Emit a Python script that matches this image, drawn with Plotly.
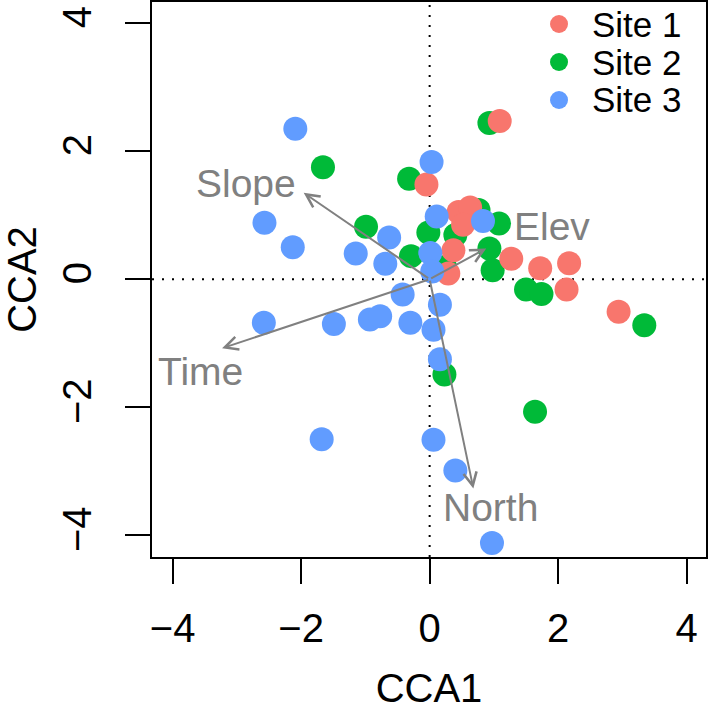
import plotly.graph_objects as go

# ---- data ----
site1_x = [-0.05, 1.09, 0.45, 0.63, 0.37, 0.29, 1.27, 1.72, 2.17, 2.13, 2.94, 0.52]
site1_y = [1.48, 2.47, 1.05, 1.12, 0.45, 0.09, 0.32, 0.17, 0.25, -0.16, -0.51, 0.85]

site2_x = [-1.66, -0.32, 0.93, -0.99, -0.29, -0.02, 0.40, 1.08, 0.76, 0.24, 0.93, 0.98,
           1.50, 1.74, 3.34, 0.23, 1.64]
site2_y = [1.75, 1.57, 2.44, 0.82, 0.36, 0.73, 0.69, 0.87, 1.08, 0.19, 0.48, 0.14,
           -0.16, -0.23, -0.72, -1.49, -2.07]

site3_x = [-2.09, -2.57, -2.13, -1.15, -0.63, -0.69, 0.03, 0.11, 0.83, 0.01, 0.04, -0.42,
           0.16, -0.30, 0.06, 0.16, -2.58, -1.49, -0.93, -0.77, -1.68, 0.06, 0.40, 0.97]
site3_y = [2.35, 0.88, 0.50, 0.40, 0.65, 0.24, 1.83, 0.98, 0.91, 0.41, 0.12, -0.24,
           -0.40, -0.68, -0.79, -1.25, -0.68, -0.70, -0.63, -0.58, -2.50, -2.51, -2.99, -4.12]

env_names = ["Slope", "Time", "North", "Elev"]
env_x = [-1.96, -3.23, 0.68, 0.88]
env_y = [1.35, -1.08, -3.27, 0.48]
env_label_x = [-2.85, -3.57, 0.94, 1.90]
env_label_y = [1.49, -1.44, -3.57, 0.82]

site_names = ["Site 1", "Site 2", "Site 3"]
site_colors = ["#F8766D", "#00BA38", "#619CFF"]

x_ticks = [-4, -2, 0, 2, 4]
y_ticks = [-4, -2, 0, 2, 4]
tick_text = ["\u22124", "\u22122", "0", "2", "4"]

FONT = "Liberation Sans, Arial, Helvetica, sans-serif"
GRAY = "#808080"

fig = go.Figure()

series = [(site2_x, site2_y, 1), (site1_x, site1_y, 0), (site3_x, site3_y, 2)]
for xs, ys, i in series:
    fig.add_trace(go.Scatter(
        x=xs, y=ys, mode="markers", name=site_names[i],
        marker=dict(color=site_colors[i], size=24, line=dict(width=0)),
        showlegend=False, hoverinfo="skip"))

# dotted reference lines at zero
fig.add_shape(type="line", xref="x", yref="paper", x0=0, x1=0, y0=0, y1=1,
              line=dict(color="black", width=2, dash="2px,8px"), layer="below")
fig.add_shape(type="line", xref="paper", yref="y", x0=0, x1=1, y0=0, y1=0,
              line=dict(color="black", width=2, dash="2px,8px"), layer="below")

# biplot arrows
for name, ex, ey, lx, ly in zip(env_names, env_x, env_y, env_label_x, env_label_y):
    fig.add_annotation(x=ex, y=ey, ax=0, ay=0, xref="x", yref="y", axref="x", ayref="y",
                       showarrow=True, arrowhead=5, arrowsize=1.3, arrowwidth=2,
                       arrowcolor=GRAY, text="", standoff=0, startstandoff=0)
    fig.add_annotation(x=lx, y=ly, xref="x", yref="y", text=name, showarrow=False,
                       font=dict(family=FONT, size=39, color=GRAY),
                       xanchor="center", yanchor="middle")

# manual legend
leg_marker_x = 0.7347
leg_text_x = 0.790
leg_rows_px = [24, 62, 100]
for name, col, ypx in zip(site_names, site_colors, leg_rows_px):
    yp = (557 - ypx) / 555
    fig.add_shape(type="circle", xref="paper", yref="paper",
                  xsizemode="pixel", ysizemode="pixel",
                  xanchor=leg_marker_x, yanchor=yp, x0=-9, x1=9, y0=-9, y1=9,
                  fillcolor=col, line=dict(width=0))
    fig.add_annotation(x=leg_text_x, y=yp, xref="paper", yref="paper", text=name,
                       showarrow=False, xanchor="left", yanchor="middle",
                       font=dict(family=FONT, size=35, color="black"))

axis_common = dict(
    showgrid=False, zeroline=False, showline=True, linecolor="black", linewidth=2,
    mirror=True, ticks="outside", ticklen=25, tickwidth=2, tickcolor="black",
    tickfont=dict(family=FONT, size=40, color="black"),
)

fig.update_xaxes(range=[-4.32, 4.30], tickvals=x_ticks, ticktext=tick_text,
                 ticklabelstandoff=10,
                 title=dict(text="CCA1", font=dict(family=FONT, size=40, color="black"),
                            standoff=36),
                 **axis_common)
fig.update_yaxes(range=[-4.34, 4.33], tickvals=y_ticks, ticktext=tick_text,
                 tickangle=-90, ticklabelstandoff=18,
                 title=dict(text="CCA2", font=dict(family=FONT, size=40, color="black"),
                            standoff=39),
                 **axis_common)

fig.update_layout(
    width=709, height=710,
    margin=dict(l=152, r=3, t=2, b=153, autoexpand=False),
    plot_bgcolor="white", paper_bgcolor="white",
    showlegend=False,
)

fig.write_html("out.html", config={"displayModeBar": False},
               post_script="document.body.style.margin='0';")
